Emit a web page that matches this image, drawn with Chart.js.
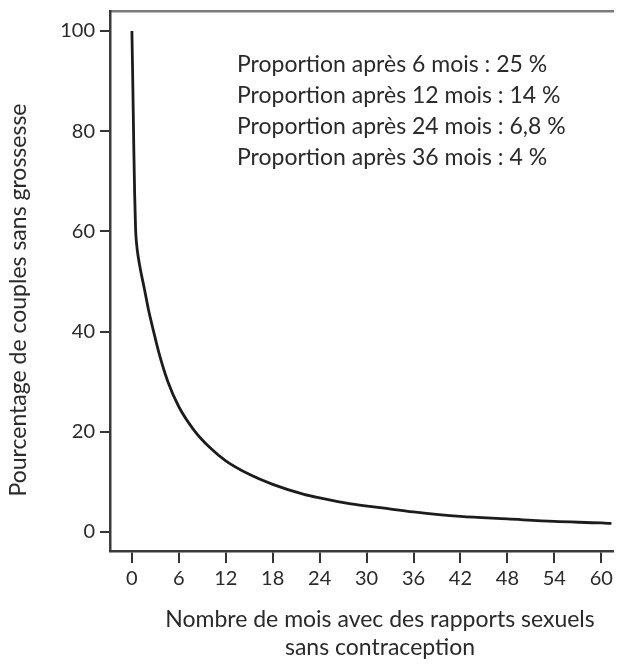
<!DOCTYPE html>
<html lang="fr">
<head>
<meta charset="utf-8">
<title>Couples sans grossesse</title>
<script src="https://cdn.jsdelivr.net/npm/chart.js@4"></script>
<style>
    html, body { margin: 0; padding: 0; background: #fff; }
    #wrap { width: 620px; height: 664px; position: relative; }
</style>
</head>
<body>
<div id="wrap"><canvas id="chart"></canvas></div>
<script>
// Data
const months = [0, 0.05, 0.1, 0.17, 0.25, 0.35, 0.47, 0.6, 0.8, 1.1, 1.6, 2.1, 2.7, 3.5, 4.6, 6, 8, 10, 12, 15, 18, 22, 24, 28, 32, 36, 42, 48, 54, 60, 61.3];
const pctNoPregnancy = [100, 95.5, 91, 84, 76, 67.5, 60.5, 57.5, 55, 52.3, 48.5, 44.5, 40.5, 35.5, 30, 25, 20.2, 16.8, 14.2, 11.5, 9.5, 7.5, 6.8, 5.6, 4.8, 4.0, 3.1, 2.6, 2.1, 1.8, 1.7];
const xTicks = [0, 6, 12, 18, 24, 30, 36, 42, 48, 54, 60];
const yTicks = [0, 20, 40, 60, 80, 100];
const notes = [
    'Proportion après 6 mois : 25 %',
    'Proportion après 12 mois : 14 %',
    'Proportion après 24 mois : 6,8 %',
    'Proportion après 36 mois : 4 %'
];
const xTitle = ['Nombre de mois avec des rapports sexuels', 'sans contraception'];
const yTitle = 'Pourcentage de couples sans grossesse';

const FONT = 'Lato, "Open Sans", sans-serif';
const TEXT = '#2a2a2a';

// notes + axis titles, placed from the chart area
const textPlugin = {
    id: 'textPlugin',
    afterDraw(chart) {
        const { ctx, chartArea } = chart;
        ctx.save();
        ctx.fillStyle = TEXT;
        ctx.font = `23px ${FONT}`;
        ctx.textBaseline = 'middle';
        ctx.textAlign = 'left';
        notes.forEach((t, i) => {
            ctx.fillText(t, chartArea.left + 127, chartArea.top + 54 + i * 31);
        });

        ctx.textAlign = 'center';
        xTitle.forEach((t, i) => {
            ctx.fillText(t, chartArea.left + 270, chartArea.bottom + 69 + i * 28);
        });

        ctx.translate(19, chartArea.top + 289);
        ctx.rotate(-Math.PI / 2);
        ctx.fillText(yTitle, 0, 0);
        ctx.restore();
    }
};

const noPad = (s) => {
    s.paddingTop = 0;
    s.paddingBottom = 0;
    s.paddingLeft = 0;
    s.paddingRight = 0;
};

new Chart(document.getElementById('chart'), {
    type: 'line',
    data: {
        datasets: [{
            data: months.map((m, i) => ({ x: m, y: pctNoPregnancy[i] })),
            borderColor: '#1c1c1c',
            borderWidth: 2.8,
            pointRadius: 0,
            fill: false,
            cubicInterpolationMode: 'monotone'
        }]
    },
    options: {
        responsive: true,
        maintainAspectRatio: false,
        animation: false,
        layout: { padding: { left: 0, right: 7, top: 0, bottom: 0 } },
        plugins: {
            legend: { display: false },
            tooltip: { enabled: false }
        },
        scales: {
            x: {
                type: 'linear',
                position: 'bottom',
                min: -2.8,
                max: 61.5,
                afterBuildTicks: (s) => { s.ticks = xTicks.map(v => ({ value: v })); },
                afterFit: (s) => { s.height = 113; noPad(s); },
                grid: { drawOnChartArea: false, drawTicks: true, tickLength: 12, color: '#333', lineWidth: 2 },
                border: { color: '#3a3a3a', width: 2.5 },
                ticks: { color: TEXT, font: { family: FONT, size: 20 }, padding: 4, maxRotation: 0, autoSkip: false }
            },
            top: {
                type: 'linear',
                position: 'top',
                min: -2.8,
                max: 61.5,
                afterFit: (s) => { s.height = 11; noPad(s); },
                grid: { display: false, drawTicks: false },
                border: { color: '#7a7a7a', width: 2.5 },
                ticks: { display: false }
            },
            y: {
                min: -3.8,
                max: 104,
                afterBuildTicks: (s) => { s.ticks = yTicks.map(v => ({ value: v })); },
                afterFit: (s) => { s.width = 110; noPad(s); },
                grid: { drawOnChartArea: false, drawTicks: true, tickLength: 10, color: '#333', lineWidth: 2 },
                border: { color: '#3a3a3a', width: 2.5 },
                ticks: { color: TEXT, font: { family: FONT, size: 20 }, padding: 5 }
            }
        }
    },
    plugins: [textPlugin]
});
</script>
</body>
</html>
